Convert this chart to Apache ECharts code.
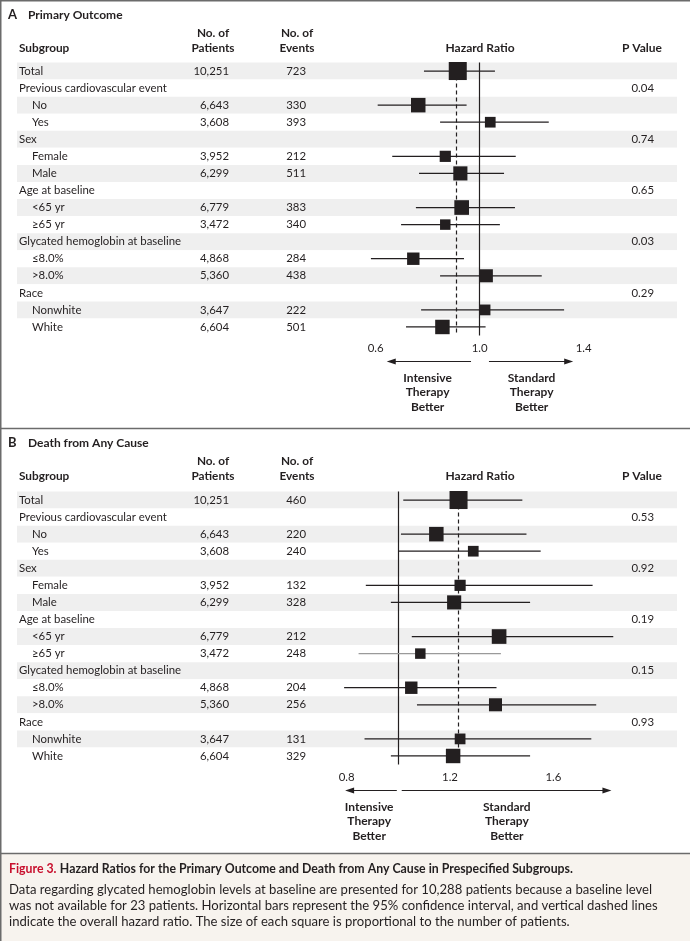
<!DOCTYPE html>
<html><head><meta charset="utf-8">
<script src="https://cdn.jsdelivr.net/npm/echarts@6/dist/echarts.min.js"></script>
<style>html,body{margin:0;padding:0;background:#fff}#c{width:690px;height:941px}</style>
</head><body><div id="c"></div><script>
// ---------------- data ----------------
const subgroups = ['Total','Previous cardiovascular event','No','Yes','Sex','Female','Male','Age at baseline','<65 yr','≥65 yr','Glycated hemoglobin at baseline','≤8.0%','>8.0%','Race','Nonwhite','White'];
const indentLevel = [0,0,1,1,0,1,1,0,1,1,0,1,1,0,1,1];
const patients = [10251,null,6643,3608,null,3952,6299,null,6779,3472,null,4868,5360,null,3647,6604];
const eventsA = [723,null,330,393,null,212,511,null,383,340,null,284,438,null,222,501];
const eventsB = [460,null,220,240,null,132,328,null,212,248,null,204,256,null,131,329];
const pValuesA = ['','0.04','','','0.74','','','0.65','','','0.03','','','0.29','',''];
const pValuesB = ['','0.53','','','0.92','','','0.19','','','0.15','','','0.93','',''];
const hrA   = [0.916,null,0.764,1.041,null,0.868,0.926,null,0.931,0.868,null,0.745,1.026,null,1.021,0.857];
const lowA  = [0.786,null,0.608,0.848,null,0.664,0.767,null,0.755,0.698,null,0.582,0.848,null,0.775,0.717];
const highA = [1.059,null,0.950,1.266,null,1.139,1.094,null,1.136,1.078,null,0.940,1.239,null,1.325,1.023];
const overallA = 0.914;
const hrB   = [1.233,null,1.147,1.290,null,1.239,1.216,null,1.390,1.085,null,1.050,1.376,null,1.239,1.212];
const lowB  = [1.019,null,1.010,1.000,null,0.874,0.971,null,1.052,0.846,null,0.790,1.072,null,0.869,0.971];
const highB = [1.480,null,1.496,1.551,null,1.752,1.510,null,1.832,1.397,null,1.380,1.766,null,1.747,1.510];
const overallB = 1.233;
const tickLabelsA = ['0.6','1.0','1.4'];
const tickLabelsB = ['0.8','1.2','1.6'];
const axisRangeA = [0.6, 1.4];
const axisRangeB = [0.8, 1.8];
const tickStep = 0.2;

// ---------------- style ----------------
const FONT = 'Lato';
const INK = '#231f20';
const ROWFS = 11.4;
const chart = echarts.init(document.getElementById('c'), null, {renderer:'canvas'});
const fmtN = v => v == null ? '' : v.toLocaleString('en-US');

function panel(p, cfg){
  const gi = p*5;
  const top = cfg.top, height = 273;
  const grids = [
    {left:17, width:660, top, height},
    {left:230, width:1, top, height},
    {left:307, width:1, top, height},
    {left:655, width:1, top, height},
    {left:cfg.hrLeft, width:cfg.hrWidth, top, height}
  ];
  const hidX = i => ({gridIndex:gi+i, type:'value', show:false, axisLine:{onZero:false}});
  const xAxes = [hidX(0),hidX(1),hidX(2),hidX(3),{
    gridIndex:gi+4, type:'value', min:cfg.range[0], max:cfg.range[1], interval:tickStep,
    axisLine:{onZero:false, lineStyle:{color:INK,width:1.2}},
    axisTick:{length:5,lineStyle:{color:INK,width:1.2}},
    splitLine:{show:false},
    axisLabel:{margin:7,fontSize:ROWFS,fontFamily:FONT,color:INK,
      formatter:v=>{const s=v.toFixed(1);return cfg.ticks.indexOf(s)>=0?s:'';}}
  }];
  const catBase = i => ({gridIndex:gi+i, type:'category', inverse:true, data:subgroups.slice(),
    axisLine:{show:false,onZero:false}, axisTick:{show:false}, splitLine:{show:false}});
  const yAxes = [
    Object.assign(catBase(0), {
      splitArea:{show:true, areaStyle:{color:['#efefef','#ffffff']}},
      axisLabel:{interval:0, align:'left', margin:-2, color:INK,
        formatter:(v,i)=> indentLevel[i] ? '{s|'+v+'}' : '{g|'+v+'}',
        rich:{g:{fontSize:ROWFS,fontFamily:FONT,color:INK},
              s:{fontSize:ROWFS,fontFamily:FONT,color:INK,padding:[0,0,0,13]}}}
    }),
    Object.assign(catBase(1), {axisLabel:{interval:0, align:'right', margin:1, fontSize:ROWFS, fontFamily:FONT, color:INK,
        formatter:(v,i)=>fmtN(patients[i])}}),
    Object.assign(catBase(2), {axisLabel:{interval:0, align:'right', margin:1, fontSize:ROWFS, fontFamily:FONT, color:INK,
        formatter:(v,i)=>fmtN(cfg.events[i])}}),
    Object.assign(catBase(3), {axisLabel:{interval:0, align:'right', margin:1, fontSize:ROWFS, fontFamily:FONT, color:INK,
        formatter:(v,i)=>cfg.pv[i]}}),
    Object.assign(catBase(4), {axisLabel:{show:false}})
  ];
  const ciData = [], sqData = [];
  cfg.hr.forEach((h,i)=>{ if(h!=null){ ciData.push([cfg.low[i], cfg.high[i], i]); sqData.push([h, i, patients[i]]); } });
  const series = [{
    type:'custom', xAxisIndex:gi+4, yAxisIndex:gi+4, clip:false, z:2,
    encode:{x:[0,1], y:2},
    data:ciData,
    renderItem:(params, api)=>{
      const a = api.coord([api.value(0), api.value(2)]);
      const b = api.coord([api.value(1), api.value(2)]);
      const gray = cfg.grayRows.indexOf(api.value(2))>=0;
      return {type:'line', shape:{x1:a[0],y1:a[1],x2:b[0],y2:b[1]},
        style:{stroke: gray?'#9a9a9a':INK, lineWidth:1.2}};
    }
  },{
    type:'scatter', xAxisIndex:gi+4, yAxisIndex:gi+4, z:5,
    symbol:'rect', symbolSize:v=>0.178*Math.sqrt(v[2]),
    itemStyle:{color:INK, opacity:1},
    data:sqData,
    markLine:{silent:true, symbol:'none', label:{show:false}, z:1,
      data:[{xAxis:1, lineStyle:{color:INK,width:1.2,type:'solid'}},
            {xAxis:cfg.overall, lineStyle:{color:INK,width:1.2,type:[4,3]}}]}
  }];
  return {grids, xAxes, yAxes, series};
}

const A = panel(0, {top:62.5, hrLeft:375.6, hrWidth:208, range:axisRangeA, ticks:tickLabelsA,
  events:eventsA, pv:pValuesA, hr:hrA, low:lowA, high:highA, overall:overallA, grayRows:[]});
const B = panel(1, {top:491.5, hrLeft:346.7, hrWidth:258.3, range:axisRangeB, ticks:tickLabelsB,
  events:eventsB, pv:pValuesB, hr:hrB, low:lowB, high:highB, overall:overallB, grayRows:[9]});

chart.setOption({
  animation:false,
  textStyle:{fontFamily:FONT},
  grid:[...A.grids, ...B.grids],
  xAxis:[...A.xAxes, ...B.xAxes],
  yAxis:[...A.yAxes, ...B.yAxes],
  series:[...A.series, ...B.series]
});

// ---------------- annotations ----------------
const G = [];
const txt = (text, x, y, o={}) => G.push({type:'text', silent:true, z:10, style:Object.assign({
  text, x, y, fill:INK, font:(o.bold?'bold ':'')+(o.size||ROWFS)+'px '+FONT,
  textAlign:o.align||'left', textVerticalAlign:'middle', lineHeight:o.lh||14.5}, o.extra||{})});
const line = (x1,y1,x2,y2,c,w) => G.push({type:'line', silent:true, z:10, shape:{x1,y1,x2,y2}, style:{stroke:c,lineWidth:w}});
const tri = (tipX, y, dir) => G.push({type:'polygon', silent:true, z:10,
  shape:{points:[[tipX,y],[tipX-dir*9,y-3],[tipX-dir*9,y+3]]}, style:{fill:INK}});

G.push({type:'rect', silent:true, z:0, shape:{x:0,y:854,width:690,height:87}, style:{fill:'#f7f3ee'}});
line(0,0.75,690,0.75,'#6b6b6b',1.5);
line(0.75,0,0.75,941,'#6b6b6b',1.5);
line(0,428.5,690,428.5,'#6b6b6b',1.5);
line(0,853.5,690,853.5,'#6b6b6b',1.5);

function headers(dy, letter, title){
  txt(letter, 8, 15+dy, {bold:true, size:13});
  txt(title, 28, 15+dy, {bold:true, size:12});
  txt('Subgroup', 19, 48+dy, {bold:true, size:11.8});
  txt('No. of\nPatients', 213, 40.5+dy, {bold:true, align:'center', size:11.8});
  txt('No. of\nEvents', 297, 40.5+dy, {bold:true, align:'center', size:11.8});
  txt('Hazard Ratio', 480, 48+dy, {bold:true, align:'center', size:12});
  txt('P Value', 642, 48+dy, {bold:true, align:'center', size:12});
}
headers(0, 'A', 'Primary Outcome');
headers(428, 'B', 'Death from Any Cause');

function arrows(xi, axisY, leftFrom, leftTo, rightFrom, rightTo, leftTextAt, rightTextAt){
  const px = v => { const r = chart.convertToPixel({xAxisIndex:xi}, v); return Array.isArray(r)?r[0]:r; };
  const ay = axisY + 26;
  line(px(leftFrom), ay, px(leftTo)+6, ay, INK, 1.2); tri(px(leftTo), ay, -1);
  line(px(rightFrom), ay, px(rightTo)-6, ay, INK, 1.2); tri(px(rightTo), ay, 1);
  txt('Intensive\nTherapy\nBetter', px(leftTextAt), ay+31, {bold:true, align:'center', size:12});
  txt('Standard\nTherapy\nBetter', px(rightTextAt), ay+31, {bold:true, align:'center', size:12});
}
arrows(4, 335.5, 0.967, 0.643, 1.036, 1.36, 0.8, 1.2);
arrows(9, 764.5, 0.994, 0.794, 1.013, 1.825, 0.887, 1.42);

G.push({type:'text', silent:true, z:10, style:{x:9, y:869, textVerticalAlign:'middle',
  text:'{r|Figure 3.} {b|Hazard Ratios for the Primary Outcome and Death from Any Cause in Prespecified Subgroups.}',
  rich:{r:{fill:'#c8102e', font:'bold 12.3px '+FONT}, b:{fill:INK, font:'bold 12.3px '+FONT}}}});
txt('Data regarding glycated hemoglobin levels at baseline are presented for 10,288 patients because a baseline level\nwas not available for 23 patients. Horizontal bars represent the 95% confidence interval, and vertical dashed lines\nindicate the overall hazard ratio. The size of each square is proportional to the number of patients.',
  9, 906, {size:13.1, lh:16});

chart.setOption({graphic:G});
</script></body></html>
